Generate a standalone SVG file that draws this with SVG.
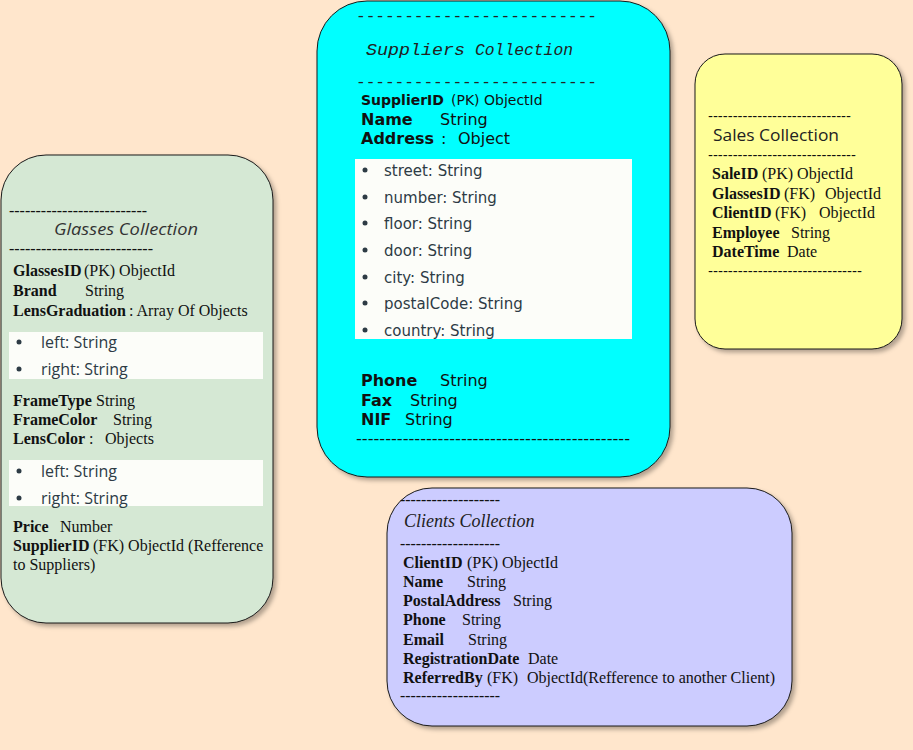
<svg xmlns="http://www.w3.org/2000/svg" width="913" height="750" viewBox="0 0 913 750">
<style>
.box{stroke:#1a1a1a;stroke-width:1;filter:url(#sh)}
.s{font-family:"Liberation Serif",serif;font-size:16px;fill:#111}
.b{font-weight:bold}
.d{font-family:"Liberation Serif",serif;font-size:16px;fill:#111}
.li{font-family:"Open Sans",sans-serif;font-size:16px;fill:#2d3b45}
.li2{font-family:"DejaVu Sans",sans-serif;font-size:15px;fill:#2d3b45}
.v14{font-family:"DejaVu Sans",sans-serif;font-size:14px;fill:#111}
.v16{font-family:"DejaVu Sans",sans-serif;font-size:16px;fill:#111}
.dot{fill:#2d3b45}
.wb{fill:#fcfdf9}
.mono{font-family:"Liberation Mono",monospace;font-size:16px;fill:#222}
</style>
<defs>
<filter id="sh" x="-10%" y="-10%" width="130%" height="130%">
<feDropShadow dx="3" dy="3" stdDeviation="2" flood-color="#000" flood-opacity="0.3"/>
</filter>
</defs>
<rect width="913" height="750" fill="#ffe6cc"/>

<g id="glasses">
<rect class="box" x="1" y="155" width="272" height="468" rx="45" fill="#d5e8d4"/>
<text class="d" x="9" y="216" textLength="138" lengthAdjust="spacingAndGlyphs">--------------------------</text>
<text x="54" y="235" font-family="'Open Sans',sans-serif" font-size="17" font-style="italic" fill="#333" textLength="144" lengthAdjust="spacingAndGlyphs">Glasses Collection</text>
<text class="d" x="9" y="254" textLength="144" lengthAdjust="spacingAndGlyphs">---------------------------</text>
<text class="s" x="13" y="276"><tspan class="b">GlassesID</tspan><tspan x="84">(PK) ObjectId</tspan></text>
<text class="s" x="13" y="296"><tspan class="b">Brand</tspan><tspan x="85">String</tspan></text>
<text class="s" x="13" y="316"><tspan class="b">LensGraduation</tspan><tspan x="129">: Array Of Objects</tspan></text>
<rect class="wb" x="9" y="332" width="254" height="47"/>
<circle class="dot" cx="19" cy="342" r="2.5"/>
<text class="li" x="41" y="348">left: String</text>
<circle class="dot" cx="19" cy="369" r="2.5"/>
<text class="li" x="41" y="375">right: String</text>
<text class="s" x="13" y="406"><tspan class="b">FrameType</tspan><tspan x="96">String</tspan></text>
<text class="s" x="13" y="425"><tspan class="b">FrameColor</tspan><tspan x="113">String</tspan></text>
<text class="s" x="13" y="444"><tspan class="b">LensColor</tspan><tspan x="89">:</tspan><tspan x="105">Objects</tspan></text>
<rect class="wb" x="9" y="460" width="254" height="46"/>
<circle class="dot" cx="19" cy="471" r="2.5"/>
<text class="li" x="41" y="477">left: String</text>
<circle class="dot" cx="19" cy="498" r="2.5"/>
<text class="li" x="41" y="504">right: String</text>
<text class="s" x="13" y="532"><tspan class="b">Price</tspan><tspan x="60">Number</tspan></text>
<text class="s" x="13" y="551"><tspan class="b">SupplierID</tspan><tspan x="93">(FK) ObjectId (Refference</tspan></text>
<text class="s" x="13" y="570">to Suppliers)</text>
</g>

<g id="suppliers">
<rect class="box" x="317" y="1" width="353" height="476" rx="50" fill="#00ffff"/>
<text class="mono" x="356" y="21" textLength="241" lengthAdjust="spacingAndGlyphs">-------------------------</text>
<text class="mono" x="366" y="55" font-style="italic"><tspan textLength="99" lengthAdjust="spacingAndGlyphs">Suppliers</tspan><tspan x="475" textLength="98" lengthAdjust="spacingAndGlyphs">Collection</tspan></text>
<text class="mono" x="356" y="87" textLength="241" lengthAdjust="spacingAndGlyphs">-------------------------</text>
<text class="v14" x="361" y="105"><tspan class="b">SupplierID</tspan><tspan x="451">(PK) ObjectId</tspan></text>
<text class="v16" x="361" y="125"><tspan class="b">Name</tspan><tspan x="440">String</tspan></text>
<text class="v16" x="361" y="144"><tspan class="b">Address</tspan><tspan x="441">:</tspan><tspan x="458">Object</tspan></text>
<rect class="wb" x="355" y="159" width="277" height="180"/>
<circle class="dot" cx="365" cy="170" r="2.5"/>
<text class="li2" x="384" y="176">street: String</text>
<circle class="dot" cx="365" cy="197" r="2.5"/>
<text class="li2" x="384" y="203">number: String</text>
<circle class="dot" cx="365" cy="223" r="2.5"/>
<text class="li2" x="384" y="229">floor: String</text>
<circle class="dot" cx="365" cy="250" r="2.5"/>
<text class="li2" x="384" y="256">door: String</text>
<circle class="dot" cx="365" cy="277" r="2.5"/>
<text class="li2" x="384" y="283">city: String</text>
<circle class="dot" cx="365" cy="303" r="2.5"/>
<text class="li2" x="384" y="309">postalCode: String</text>
<circle class="dot" cx="365" cy="330" r="2.5"/>
<text class="li2" x="384" y="336">country: String</text>
<text class="v16" x="361" y="386"><tspan class="b">Phone</tspan><tspan x="440">String</tspan></text>
<text class="v16" x="361" y="406"><tspan class="b">Fax</tspan><tspan x="410">String</tspan></text>
<text class="v16" x="361" y="425"><tspan class="b">NIF</tspan><tspan x="405">String</tspan></text>
<text class="v16" x="356" y="444" textLength="274" lengthAdjust="spacingAndGlyphs">-----------------------------------------------</text>
</g>

<g id="sales">
<rect class="box" x="695" y="54" width="207" height="295" rx="30" fill="#ffff99"/>
<text class="v14" x="708" y="121" textLength="143" lengthAdjust="spacingAndGlyphs">-----------------------------</text>
<text x="713" y="141" font-family="'Open Sans',sans-serif" font-size="17" fill="#222" textLength="126" lengthAdjust="spacingAndGlyphs">Sales Collection</text>
<text class="v14" x="708" y="160" textLength="148" lengthAdjust="spacingAndGlyphs">------------------------------</text>
<text class="s" x="712" y="179"><tspan class="b">SaleID</tspan><tspan x="762">(PK) ObjectId</tspan></text>
<text class="s" x="712" y="199"><tspan class="b">GlassesID</tspan><tspan x="784">(FK)</tspan><tspan x="825">ObjectId</tspan></text>
<text class="s" x="712" y="218"><tspan class="b">ClientID</tspan><tspan x="775">(FK)</tspan><tspan x="819">ObjectId</tspan></text>
<text class="s" x="712" y="238"><tspan class="b">Employee</tspan><tspan x="791">String</tspan></text>
<text class="s" x="712" y="257"><tspan class="b">DateTime</tspan><tspan x="787">Date</tspan></text>
<text class="v14" x="708" y="276" textLength="154" lengthAdjust="spacingAndGlyphs">-------------------------------</text>
</g>

<g id="clients">
<rect class="box" x="387" y="488" width="405" height="238" rx="45" fill="#ccccff"/>
<text class="d" x="400" y="505" textLength="100" lengthAdjust="spacingAndGlyphs">-------------------</text>
<text x="404" y="527" font-family="'Liberation Serif',serif" font-size="18" font-style="italic" fill="#222">Clients Collection</text>
<text class="d" x="400" y="549" textLength="100" lengthAdjust="spacingAndGlyphs">-------------------</text>
<text class="s" x="403" y="568"><tspan class="b">ClientID</tspan><tspan x="467">(PK) ObjectId</tspan></text>
<text class="s" x="403" y="587"><tspan class="b">Name</tspan><tspan x="467">String</tspan></text>
<text class="s" x="403" y="606"><tspan class="b">PostalAddress</tspan><tspan x="513">String</tspan></text>
<text class="s" x="403" y="625"><tspan class="b">Phone</tspan><tspan x="462">String</tspan></text>
<text class="s" x="403" y="645"><tspan class="b">Email</tspan><tspan x="468">String</tspan></text>
<text class="s" x="403" y="664"><tspan class="b">RegistrationDate</tspan><tspan x="528">Date</tspan></text>
<text class="s" x="403" y="683"><tspan class="b">ReferredBy</tspan><tspan x="487">(FK)</tspan><tspan x="527">ObjectId(Refference to another Client)</tspan></text>
<text class="d" x="400" y="701" textLength="100" lengthAdjust="spacingAndGlyphs">-------------------</text>
</g>

<g id="connectors"></g>
</svg>
